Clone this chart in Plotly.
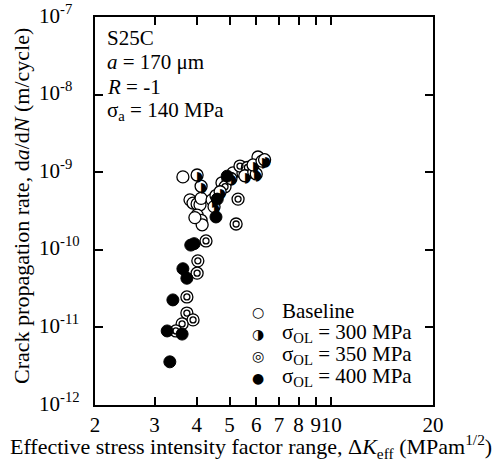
import math
import plotly.graph_objects as go

# ---- data ----
base_dk = [3.64, 3.82, 3.90, 4.01, 4.09, 4.01, 4.12, 4.15, 3.95, 4.12, 4.75, 4.95, 5.12, 5.48, 5.63, 5.75, 6.07]
base_rate = [8.7e-10, 4.4e-10, 4.0e-10, 3.9e-10, 3.8e-10, 2.8e-10, 2.4e-10, 2.1e-10, 2.6e-10, 4.6e-10,
             7.3e-10, 8.0e-10, 9.8e-10, 9.8e-10, 1.07e-9, 1.13e-9, 1.57e-9]

ol300_dk = [4.01, 4.12, 4.44, 4.56, 4.69, 4.50, 5.05, 5.55, 5.90, 6.00, 5.87, 6.24, 6.35]
ol300_rate = [9.2e-10, 6.6e-10, 4.4e-10, 5.0e-10, 5.6e-10, 3.6e-10, 8.3e-10, 9.0e-10, 1.0e-9, 9.5e-10,
              1.24e-9, 1.39e-9, 1.45e-9]

ol350_dk = [5.30, 5.23, 4.26, 4.03, 4.01, 3.74, 3.74, 3.90, 3.62, 3.47, 5.37, 4.85, 5.65]
ol350_rate = [4.5e-10, 2.15e-10, 1.30e-10, 7.2e-11, 5.0e-11, 2.47e-11, 1.53e-11, 1.25e-11, 1.11e-11,
              9.0e-12, 1.20e-9, 6.5e-10, 1.15e-9]

ol400_dk = [4.92, 4.56, 3.93, 3.84, 3.64, 3.74, 3.40, 3.27, 3.62, 3.33, 4.60]
ol400_rate = [8.9e-10, 2.65e-10, 1.2e-10, 1.15e-10, 5.7e-11, 4.3e-11, 2.26e-11, 9.0e-12, 8.2e-12, 3.6e-12, 4.5e-10]

x_tickvals = [2, 3, 4, 5, 6, 7, 8, 9, 10, 20]
x_ticktext = ["2", "3", "4", "5", "6", "7", "8", "9", "10", "20"]
y_tickvals = [1e-12, 1e-11, 1e-10, 1e-9, 1e-8, 1e-7]
y_ticktext = ["10<sup>-12</sup>", "10<sup>-11</sup>", "10<sup>-10</sup>", "10<sup>-9</sup>",
              "10<sup>-8</sup>", "10<sup>-7</sup>"]

x_title = "Effective stress intensity factor range, Δ<i>K</i><sub>eff</sub> (MPam<sup>1/2</sup>)"
y_title = "Crack propagation rate, d<i>a</i>/d<i>N</i> (m/cycle)"
info_lines = ["S25C", "<i>a</i> = 170 μm", "<i>R</i> = -1", "σ<sub>a</sub> = 140 MPa"]
legend_labels = ["Baseline", "σ<sub>OL</sub> = 300 MPa", "σ<sub>OL</sub> = 350 MPa", "σ<sub>OL</sub> = 400 MPa"]
legend_glyphs = ["○", "◑", "◎", "●"]

SERIF = "Liberation Serif, Times New Roman, Times, serif"
SYM = "DejaVu Sans"
FS = 21
FT = 22
MS = 12

fig = go.Figure()

# baseline: open circles
fig.add_trace(go.Scatter(x=base_dk, y=base_rate, mode="markers", showlegend=False,
                         marker=dict(symbol="circle", size=MS, color="white",
                                     line=dict(color="black", width=1.3))))
# 350 MPa: double ring
fig.add_trace(go.Scatter(x=ol350_dk, y=ol350_rate, mode="markers", showlegend=False,
                         marker=dict(symbol="circle", size=MS, color="white",
                                     line=dict(color="black", width=1.3))))
fig.add_trace(go.Scatter(x=ol350_dk, y=ol350_rate, mode="markers", showlegend=False,
                         marker=dict(symbol="circle-open", size=6, color="black",
                                     line=dict(color="black", width=1.3))))
# 300 MPa: white disc with outline (half fill added as glyph annotations)
fig.add_trace(go.Scatter(x=ol300_dk, y=ol300_rate, mode="markers", showlegend=False,
                         marker=dict(symbol="circle", size=MS, color="white",
                                     line=dict(color="black", width=1.3))))
# 400 MPa: filled
fig.add_trace(go.Scatter(x=ol400_dk, y=ol400_rate, mode="markers", showlegend=False,
                         marker=dict(symbol="circle", size=MS, color="black",
                                     line=dict(color="black", width=1))))

annotations = []
# half-black glyph on each 300 MPa point (log axes -> log10 positions)
for xv, yv in zip(ol300_dk, ol300_rate):
    annotations.append(dict(text="◗", x=math.log10(xv), y=math.log10(yv), xref="x", yref="y",
                            xanchor="center", yanchor="middle", showarrow=False,
                            xshift=2.5, yshift=-1,
                            font=dict(family=SYM, size=14, color="black")))

# y tick labels, left aligned as in the reference
for tv, tt in zip(y_tickvals, y_ticktext):
    annotations.append(dict(text=tt, x=-0.172, y=math.log10(tv), xref="paper", yref="y",
                            xanchor="left", yanchor="middle", showarrow=False, yshift=3,
                            font=dict(family=SERIF, size=FS, color="black")))

# axis titles
annotations.append(dict(text=x_title, x=0.5, y=-0.108, xref="paper", yref="paper",
                        xanchor="center", yanchor="middle", showarrow=False, xshift=-13,
                        font=dict(family=SERIF, size=FT, color="black")))
annotations.append(dict(text=y_title, x=-0.216, y=0.513, xref="paper", yref="paper",
                        xanchor="center", yanchor="middle", showarrow=False, textangle=-90,
                        font=dict(family=SERIF, size=FT, color="black")))

info_y = [0.946, 0.883, 0.820, 0.758]
for t, yy in zip(info_lines, info_y):
    annotations.append(dict(text=t, x=0.03, y=yy, xref="paper", yref="paper",
                            xanchor="left", yanchor="middle", showarrow=False,
                            font=dict(family=SERIF, size=FS, color="black")))
leg_y = [0.242, 0.186, 0.129, 0.072]
for g, lab, yy in zip(legend_glyphs, legend_labels, leg_y):
    annotations.append(dict(text=g, x=0.482, y=yy, xref="paper", yref="paper",
                            xanchor="center", yanchor="middle", showarrow=False, yshift=-1,
                            font=dict(family=SYM, size=14, color="black")))
    annotations.append(dict(text=lab, x=0.546, y=yy, xref="paper", yref="paper",
                            xanchor="left", yanchor="middle", showarrow=False,
                            font=dict(family=SERIF, size=FS, color="black")))

axis_common = dict(showline=True, linecolor="black", linewidth=2, mirror="ticks",
                   ticks="inside", ticklen=8, tickwidth=1.5, tickcolor="black",
                   showgrid=False, zeroline=False, automargin=False,
                   tickfont=dict(family=SERIF, size=FS, color="black"))

fig.update_layout(
    width=499, height=470,
    margin=dict(l=95, r=66, t=17, b=65),
    paper_bgcolor="white", plot_bgcolor="white",
    showlegend=False,
    font=dict(family=SERIF, size=FS, color="black"),
    xaxis=dict(type="log", range=[0.30103, 1.30103], tickvals=x_tickvals, ticktext=x_ticktext,
               tickangle=0, ticklabelstandoff=0, **axis_common),
    yaxis=dict(type="log", range=[-12, -7], tickvals=y_tickvals, showticklabels=False,
               **axis_common),
    annotations=annotations,
)

fig.write_html("out.html", config={"displayModeBar": False},
               post_script="document.body.style.margin='0';")
